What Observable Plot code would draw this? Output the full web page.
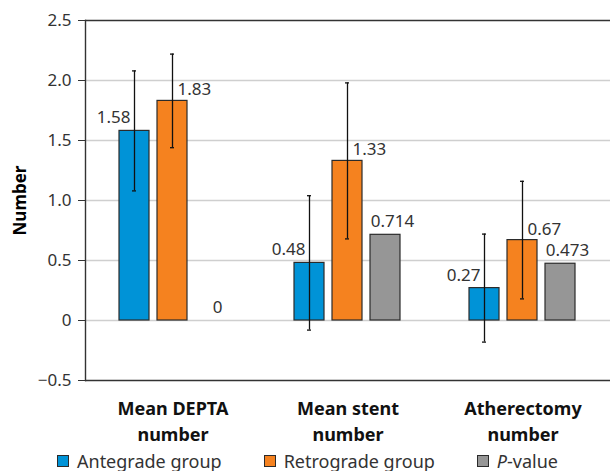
<!DOCTYPE html>
<html>
<head>
<meta charset="utf-8">
<script src="https://cdn.jsdelivr.net/npm/d3@7"></script>
<script src="https://cdn.jsdelivr.net/npm/@observablehq/plot@0.6"></script>
<style>
  html, body { margin: 0; padding: 0; background: #fff; }
  body { width: 611px; height: 471px; overflow: hidden; font-family: "Noto Sans", sans-serif; }
  #chart svg { overflow: visible; display: block; }
  #legend { display: flex; align-items: center; height: 21px; padding-left: 57px; gap: 42px; font-size: 18px; color: #333; }
  #legend .item { display: flex; align-items: center; gap: 8px; white-space: nowrap; }
  #legend .sw { width: 10px; height: 10px; border: 1.2px solid #2b2b2b; }
</style>
</head>
<body>
<div id="chart"></div>
<div id="legend"></div>
<script>
const categories = ["Mean DEPTA\nnumber", "Mean stent\nnumber", "Atherectomy\nnumber"];
const seriesNames = ["Antegrade group", "Retrograde group", "P-value"];
const seriesColors = ["#0093D7", "#F5821F", "#969696"];
const antegrade = [1.58, 0.48, 0.27];
const retrograde = [1.83, 1.33, 0.67];
const pValue = [0, 0.714, 0.473];
const antegradeErr = [0.50, 0.56, 0.45];
const retrogradeErr = [0.39, 0.65, 0.49];
const yTicks = [-0.5, 0, 0.5, 1.0, 1.5, 2.0, 2.5];
const yTickLabels = ["\u22120.5", "0", "0.5", "1.0", "1.5", "2.0", "2.5"];
const gridValues = [0, 0.5, 1.0, 1.5, 2.0];

const seriesValues = [antegrade, retrograde, pValue];
const seriesErrs = [antegradeErr, retrogradeErr, null];

const rows = [];
categories.forEach((cat, i) => {
  seriesNames.forEach((s, j) => {
    rows.push({
      cat, series: s, value: seriesValues[j][i],
      err: seriesErrs[j] ? seriesErrs[j][i] : null
    });
  });
});
const errRows = rows.filter(d => d.err != null);

const textStyle = {fontSize: 17, fill: "#333"};

const chart = Plot.plot({
  width: 611,
  height: 450,
  marginLeft: 84,
  marginRight: 0,
  marginTop: 20,
  marginBottom: 70,
  style: {fontFamily: "Noto Sans, sans-serif", background: "#fff", overflow: "visible"},
  fx: {domain: categories, padding: 0, label: null},
  x: {domain: seriesNames, paddingInner: 0.205, paddingOuter: 0.86, axis: null},
  y: {domain: [-0.5, 2.5], label: null},
  color: {domain: seriesNames, range: seriesColors},
  marks: [
    Plot.ruleY(gridValues, {stroke: "#cfcfcf", strokeWidth: 1.3}),
    Plot.barY(rows, {fx: "cat", x: "series", y: "value", fill: "series", stroke: "#2b2b2b", strokeWidth: 1.2}),
    Plot.ruleX(errRows, {fx: "cat", x: "series", y1: d => d.value - d.err, y2: d => d.value + d.err, stroke: "#111", strokeWidth: 1.3}),
    Plot.tickY(errRows, {fx: "cat", x: "series", y: d => d.value - d.err, stroke: "#111", strokeWidth: 1.3, inset: 13}),
    Plot.tickY(errRows, {fx: "cat", x: "series", y: d => d.value + d.err, stroke: "#111", strokeWidth: 1.3, inset: 13}),
    Plot.text(rows.filter(d => d.series === seriesNames[0]), {fx: "cat", x: "series", y: "value", text: d => String(d.value), textAnchor: "end", dx: -4, dy: -13, ...textStyle}),
    Plot.text(rows.filter(d => d.series === seriesNames[1]), {fx: "cat", x: "series", y: "value", text: d => String(d.value), textAnchor: "start", dx: 5, dy: -11, ...textStyle}),
    Plot.text(rows.filter(d => d.series === seriesNames[2]), {fx: "cat", x: "series", y: "value", text: d => String(d.value), textAnchor: "middle", dx: 7, dy: -13, ...textStyle}),
    Plot.ruleY([-0.5, 2.5], {stroke: "#333", strokeWidth: 1.4}),
    Plot.frame({anchor: "left", stroke: "#333", strokeWidth: 1.4, facetAnchor: "left"}),
    Plot.axisY({ticks: yTicks, tickFormat: d => yTickLabels[yTicks.indexOf(d)], tickSize: 7, tickPadding: 7, fontSize: 17, fill: "#333", stroke: "#333", label: null}),
    Plot.axisY({ticks: [], tickSize: 0, label: "Number", labelAnchor: "center", labelArrow: "none", labelOffset: 72, fontSize: 17, fontWeight: "bold", fill: "#000"}),
    Plot.axisFx({anchor: "bottom", tickSize: 0, tickPadding: 17, fontSize: 18, fontWeight: "bold", fill: "#111", lineHeight: 1.4, label: null})
  ]
});
document.getElementById("chart").appendChild(chart);

const legend = document.getElementById("legend");
seriesNames.forEach((s, j) => {
  const item = document.createElement("div");
  item.className = "item";
  const sw = document.createElement("span");
  sw.className = "sw";
  sw.style.background = seriesColors[j];
  const label = document.createElement("span");
  if (s === "P-value") {
    label.innerHTML = "<i>P</i>-value";
  } else {
    label.textContent = s;
  }
  item.appendChild(sw);
  item.appendChild(label);
  legend.appendChild(item);
});
</script>
</body>
</html>
